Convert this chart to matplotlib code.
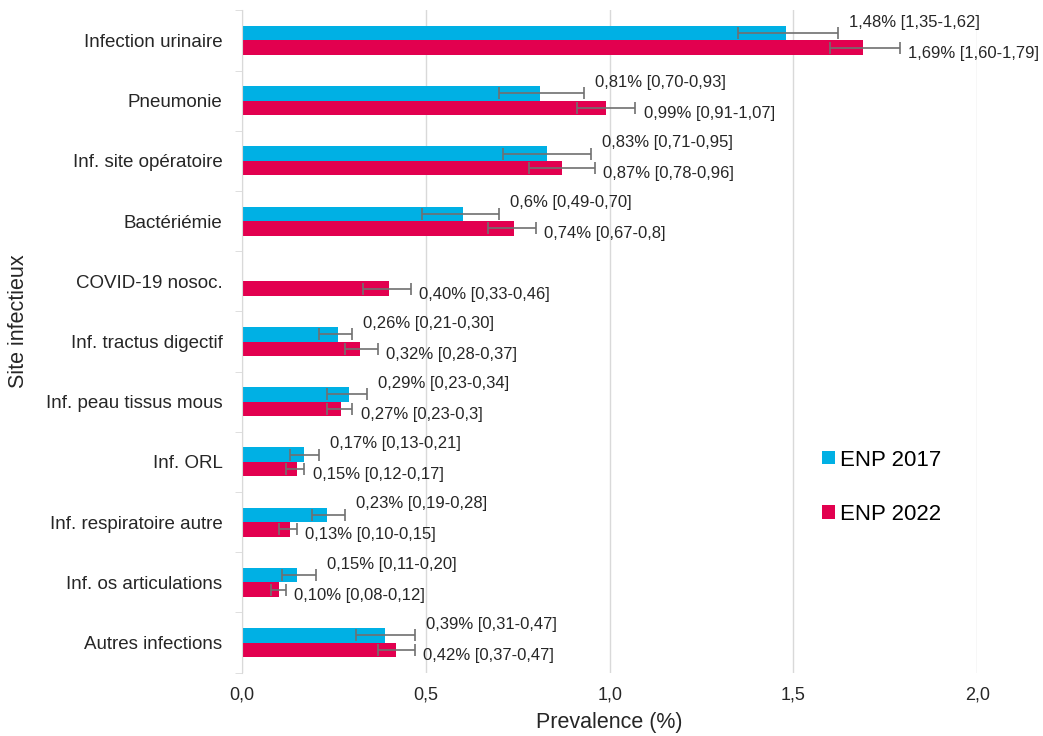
import numpy as np
from matplotlib import pyplot as plt

plt.rcParams['font.family'] = ['Liberation Sans', 'DejaVu Sans']

sites = ["Infection urinaire", "Pneumonie", "Inf. site opératoire", "Bactériémie",
         "COVID-19 nosoc.", "Inf. tractus digectif", "Inf. peau tissus mous",
         "Inf. ORL", "Inf. respiratoire autre", "Inf. os articulations",
         "Autres infections"]

# ENP 2017 (no COVID value)
prev_2017 = [1.48, 0.81, 0.83, 0.60, np.nan, 0.26, 0.29, 0.17, 0.23, 0.15, 0.39]
low_2017 = [1.35, 0.70, 0.71, 0.49, np.nan, 0.21, 0.23, 0.13, 0.19, 0.11, 0.31]
high_2017 = [1.62, 0.93, 0.95, 0.70, np.nan, 0.30, 0.34, 0.21, 0.28, 0.20, 0.47]
lab_2017 = ["1,48% [1,35-1,62]", "0,81% [0,70-0,93]", "0,83% [0,71-0,95]",
            "0,6% [0,49-0,70]", "", "0,26% [0,21-0,30]", "0,29% [0,23-0,34]",
            "0,17% [0,13-0,21]", "0,23% [0,19-0,28]", "0,15% [0,11-0,20]",
            "0,39% [0,31-0,47]"]

# ENP 2022
prev_2022 = [1.69, 0.99, 0.87, 0.74, 0.40, 0.32, 0.27, 0.15, 0.13, 0.10, 0.42]
low_2022 = [1.60, 0.91, 0.78, 0.67, 0.33, 0.28, 0.23, 0.12, 0.10, 0.08, 0.37]
high_2022 = [1.79, 1.07, 0.96, 0.80, 0.46, 0.37, 0.30, 0.17, 0.15, 0.12, 0.47]
lab_2022 = ["1,69% [1,60-1,79]", "0,99% [0,91-1,07]", "0,87% [0,78-0,96]",
            "0,74% [0,67-0,8]", "0,40% [0,33-0,46]", "0,32% [0,28-0,37]",
            "0,27% [0,23-0,3]", "0,15% [0,12-0,17]", "0,13% [0,10-0,15]",
            "0,10% [0,08-0,12]", "0,42% [0,37-0,47]"]

blue = "#00B0E4"
red = "#E2004F"
grey = "#707070"
txt = "#262626"

fig = plt.figure(figsize=(10.43, 7.36), dpi=100)
ax = fig.add_axes([0.232, 0.086, 0.705, 0.9])

y = np.arange(len(sites))
h = 0.24

p17 = np.array(prev_2017)
p22 = np.array(prev_2022)
err17 = [p17 - np.array(low_2017), np.array(high_2017) - p17]
err22 = [p22 - np.array(low_2022), np.array(high_2022) - p22]

ax.barh(y - h / 2, p17, height=h, color=blue, label="ENP 2017", zorder=2)
ax.barh(y + h / 2, p22, height=h, color=red, label="ENP 2022", zorder=2)
ax.errorbar(p17, y - h / 2, xerr=err17, fmt="none", ecolor=grey, elinewidth=1.2,
            capsize=4, capthick=1.2, zorder=3)
ax.errorbar(p22, y + h / 2, xerr=err22, fmt="none", ecolor=grey, elinewidth=1.2,
            capsize=4, capthick=1.2, zorder=3)

for i in range(len(sites)):
    if lab_2017[i]:
        ax.annotate(lab_2017[i], (high_2017[i], y[i] - h / 2), xytext=(8, 8),
                    textcoords="offset points", va="center", ha="left",
                    fontsize=12, color=txt)
    ax.annotate(lab_2022[i], (high_2022[i], y[i] + h / 2), xytext=(6, -4),
                textcoords="offset points", va="center", ha="left",
                fontsize=12, color=txt)

ax.set_xlim(0, 2.0)
ax.set_ylim(len(sites) - 0.5, -0.5)
ax.set_xticks([0, 0.5, 1.0, 1.5, 2.0])
ax.set_xticklabels(["0,0", "0,5", "1,0", "1,5", "2,0"], fontsize=13, color=txt)
ax.set_yticks(y)
ax.set_yticklabels(sites, fontsize=13.5, color=txt)
ax.set_yticks(np.arange(len(sites) + 1) - 0.5, minor=True)
ax.tick_params(axis="y", which="major", length=0, pad=14)
ax.tick_params(axis="y", which="minor", length=5, color="#D9D9D9")
ax.tick_params(axis="x", length=0, pad=10)
ax.grid(axis="x", color="#D9D9D9", linewidth=1, zorder=0)
ax.set_axisbelow(True)
for s in ["top", "right", "bottom"]:
    ax.spines[s].set_visible(False)
ax.spines["left"].set_color("#D9D9D9")

ax.set_xlabel("Prevalence (%)", fontsize=15.5, color=txt, labelpad=6)
ax.set_ylabel("Site infectieux", fontsize=15.5, color=txt)
ax.yaxis.set_label_coords(-0.29, 0.53)

ax.legend(loc="center left", bbox_to_anchor=(0.762, 0.28), frameon=False,
          fontsize=16, handlelength=0.55, handleheight=0.55, handletextpad=0.25,
          labelspacing=1.5)

fig.savefig("out.png", dpi=100)
